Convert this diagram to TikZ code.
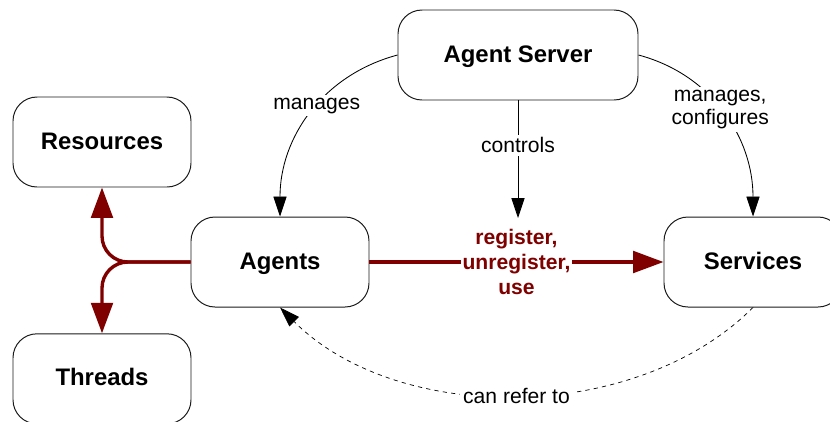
\documentclass[tikz,border=0pt]{standalone}
\usepackage{fontspec}
\setmainfont{Liberation Sans}
\usepackage{xcolor}
\definecolor{FlowRed}{HTML}{800000}
\definecolor{BoxLine}{HTML}{1A1A1A}
\usepackage{tikz}
\usetikzlibrary{arrows.meta}

\begin{document}
\begin{tikzpicture}[
        component/.style={
            draw=BoxLine,
            fill=white,
            line width=0.7pt,
            rounded corners=0.6cm,
            minimum width=4.45cm,
            minimum height=2.25cm,
            text height=1.1em,
            text depth=0.1em,
            align=center,
            font=\fontsize{17}{20}\selectfont\bfseries
        },
        control/.style={
            -{Triangle[length=5mm,width=3.3mm]},
            line width=0.6pt,
            draw=black
        },
        usage/.style={
            -{Triangle[length=7.6mm,width=5.4mm]},
            line width=2.4pt,
            draw=FlowRed,
            rounded corners=0.65cm
        },
        reference/.style={
            -{Triangle[length=5mm,width=3.3mm]},
            dashed,
            line width=0.5pt,
            draw=black
        },
        controllabel/.style={
            fill=white,
            inner sep=2pt,
            align=center,
            font=\fontsize{15}{16.5}\selectfont
        },
        usagelabel/.style={
            fill=white,
            inner sep=1pt,
            text=FlowRed,
            align=center,
            font=\fontsize{15}{17.5}\selectfont\bfseries
        }
    ]
        \clip (0,0) rectangle (20.75,-10.525);

        \node[component, minimum width=6cm] (server) at (12.95,-1.375)
            {Agent Server};
        \node[component] (agents) at (7.0,-6.55) {Agents};
        \node[component] (services) at (18.825,-6.55) {Services};
        \node[component] (resources) at (2.55,-3.55) {Resources};
        \node[component] (threads) at (2.55,-9.47) {Threads};
        \coordinate (target) at (12.95,-5.45);

        % what the server is in charge of
        \draw[control] (server.west) to[out=195,in=90]
            node[controllabel, pos=0.45] {manages} (agents.north);
        \draw[control] (server.east) to[out=-15,in=90]
            node[controllabel, pos=0.47] {manages,\\configures} (services.north);
        \draw[control] (server.south) --
            node[controllabel, pos=0.38] {controls} (target);

        % agents at work
        \draw[usage, rounded corners=0pt] (agents.east) --
            node[usagelabel] {register,\\unregister,\\use} (services.west);
        \draw[usage] (agents.west) -| (resources.south);
        \draw[usage] (agents.west) -| (threads.north);

        \draw[reference] (services.south) to[out=-135,in=-45,looseness=0.9]
            node[controllabel] {can refer to} (agents.south);
    \end{tikzpicture}
\end{document}
